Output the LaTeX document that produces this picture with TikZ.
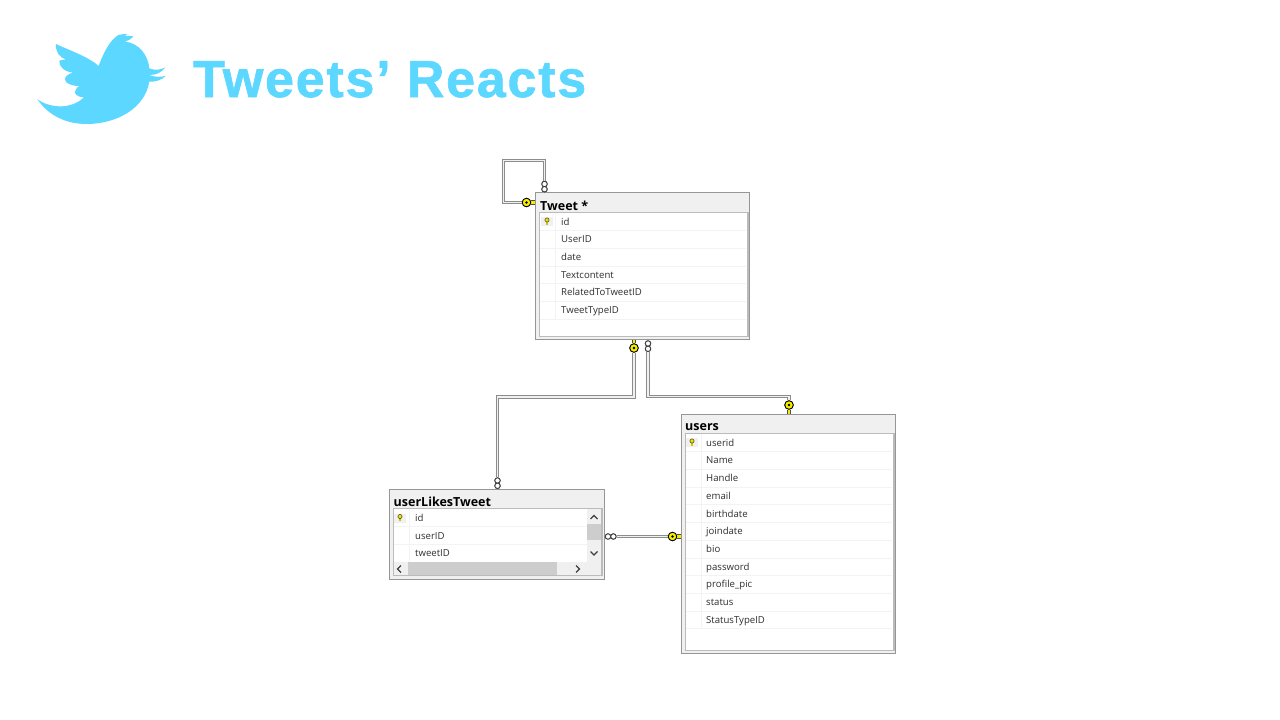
\documentclass[tikz,border=0pt]{standalone}
\usepackage{fontspec}
\setmainfont{Open Sans}
\newfontfamily\titlefont[LetterSpace=3.4,FakeBold=1.2]{Liberation Sans Bold}
\usetikzlibrary{shapes.geometric,calc}
\definecolor{tw}{HTML}{5CD7FF}
\definecolor{hdr}{HTML}{F0F0F0}
\definecolor{edgeg}{HTML}{969696}
\definecolor{inng}{HTML}{BBBBBB}
\definecolor{rowl}{HTML}{F3F3F3}
\definecolor{keyy}{HTML}{F5EE00}
\definecolor{sbar}{HTML}{CDCDCD}
\tikzset{
 tablebox/.style={draw=edgeg,line width=1.3pt,fill=hdr,anchor=north west,inner sep=0pt},
 gridbox/.style={draw=inng,line width=1.5pt,fill=white,anchor=north west,inner sep=0pt},
 tabletitle/.style={anchor=west,inner sep=0pt,font=\fontsize{12.5}{14}\selectfont\bfseries,text=black},
 rowtext/.style={anchor=west,inner sep=0pt,font=\fontsize{9.6}{12}\selectfont,text=black!82,text height=7.5pt,text depth=2pt},
 rowline/.style={draw=rowl,line width=.9pt},
 conn/.style={draw=black!45,line width=1.1pt,double=black!6,double distance=1.3pt,line join=miter},
 keyhead/.style={ellipse,draw=black,line width=.8pt,fill=keyy,minimum width=8.5pt,minimum height=8.5pt,inner sep=0pt},
 keyshaft/.style={draw=black!70,line width=.7pt,double=keyy,double distance=2.8pt},
 ring/.style={circle,draw=black!75,line width=.9pt,fill=white,minimum size=5.4pt,inner sep=0pt},
 pkbg/.style={fill=hdr,draw=none,minimum width=12pt,minimum height=9pt,inner sep=0pt},
 sbbg/.style={fill=hdr,draw=none,anchor=north west,inner sep=0pt},
 sbthumb/.style={fill=sbar,draw=none,anchor=north west,inner sep=0pt},
 chev/.style={draw=black!75,line width=1.1pt},
}
\newcommand{\pkkey}[1]{%
 \node[pkbg] at (#1) {};
 \fill[yellow!60!olive] ($(#1)+(-.9,-1)$) rectangle ($(#1)+(.9,3.2)$);
 \filldraw[draw=black!70!olive,fill=yellow!85!olive,line width=.5pt] ($(#1)+(0,-1.5)$) circle (2.1);
}
\newcommand{\keydot}[1]{\fill[black] (#1) circle (1.3);}
\begin{document}
\begin{tikzpicture}[x=1pt,y=-1pt]
\useasboundingbox[fill=white] (0,0) rectangle (1280,720);
% bird
\begin{scope}[shift={(20,20)},x=.3333pt,y=-.3333pt]
\fill[tw] (52,238) .. controls (85,262) and (150,272) .. (192,232)
 .. controls (175,232) and (160,222) .. (166,212) .. controls (168,204) and (174,200) .. (178,198)
 .. controls (155,198) and (135,190) .. (135,178) .. controls (135,168) and (148,160) .. (160,158)
 .. controls (135,156) and (115,140) .. (118,122) .. controls (122,120) and (130,119) .. (138,119)
 .. controls (118,112) and (106,95) .. (108,72)
 .. controls (150,92) and (205,110) .. (236,138)
 .. controls (250,100) and (268,62) .. (295,45)
 .. controls (303,43) and (312,42) .. (322,42) .. controls (318,46) and (314,49) .. (308,52)
 .. controls (318,46) and (332,46) .. (340,50) .. controls (332,58) and (325,62) .. (315,65)
 .. controls (355,68) and (385,105) .. (388,145)
 .. controls (405,152) and (422,150) .. (436,142) .. controls (425,158) and (408,165) .. (388,165)
 .. controls (405,172) and (424,172) .. (438,167) .. controls (425,181) and (405,186) .. (388,185)
 .. controls (375,265) and (290,312) .. (200,312)
 .. controls (135,312) and (85,285) .. (52,238) -- cycle;
\end{scope}
\node[anchor=base west,inner sep=0pt,text=tw,font=\titlefont\fontsize{52}{56}\selectfont] (title) at (193,97) {Tweets’ Reacts};

% tables
\node[tablebox,minimum width=214pt,minimum height=146.5pt] (tweet) at (535,192) {};
\node[gridbox,minimum width=208.5pt,minimum height=124pt] (tweetgrid) at (538.5,211.5) {};
\node[tabletitle] (tweettitle) at (540,205.5) {Tweet *};
\node[tablebox,minimum width=214.5pt,minimum height=239pt] (users) at (680.5,413.5) {};
\node[gridbox,minimum width=208.5pt,minimum height=217pt] (usersgrid) at (684.5,432.5) {};
\node[tabletitle] (userstitle) at (685,427) {users};
\node[tablebox,minimum width=214.5pt,minimum height=89.5pt] (likes) at (389,489) {};
\node[gridbox,minimum width=208.5pt,minimum height=67pt] (likesgrid) at (392.5,507.5) {};
\node[tabletitle] (likestitle) at (393.5,502) {userLikesTweet};

% rows Tweet
\foreach \yy in {230.5,248,266,283.5,301,319} \draw[rowline] (540,\yy) -- (746,\yy);
\draw[rowline] (555,213) -- (555,319);
\foreach \nm/\yy/\tx in {a/222.5/id,b/240/UserID,c/258/date,d/275.5/Textcontent,e/293/RelatedToTweetID,f/311/TweetTypeID}
 \node[rowtext] (tw\nm) at (561,\yy) {\tx};
\pkkey{547,221.5}
% rows users
\foreach \yy in {451.5,469,487,504.5,522.5,540,558,575.5,593,611,628.5} \draw[rowline] (686,\yy) -- (892,\yy);
\draw[rowline] (701,434) -- (701,628.5);
\foreach \nm/\yy/\tx in {a/443.5/userid,b/461/Name,c/479/Handle,d/496.5/email,e/514.5/birthdate,f/532/joindate,g/550/bio,h/567.5/password,i/585/profile\_pic,j/603/status,k/620.5/StatusTypeID}
 \node[rowtext] (us\nm) at (706,\yy) {\tx};
\pkkey{692,442.5}
% rows likes
\foreach \yy in {526.5,544.5} \draw[rowline] (394,\yy) -- (587,\yy);
\draw[rowline] (409,509) -- (409,562);
\foreach \nm/\yy/\tx in {a/519/id,b/536.5/userID,c/554/tweetID}
 \node[rowtext] (li\nm) at (415,\yy) {\tx};
\pkkey{400,518}
% scrollbars
\node[sbbg,minimum width=14pt,minimum height=53pt] (vbar) at (587,509) {};
\node[sbthumb,minimum width=14pt,minimum height=16pt] (vthumb) at (587,524) {};
\node[sbbg,minimum width=207pt,minimum height=13pt] (hbar) at (394,562) {};
\node[sbthumb,minimum width=149pt,minimum height=13pt] (hthumb) at (408,562) {};
\draw[chev] (590.5,519) -- (594,515.5) -- (597.5,519);
\draw[chev] (590.5,551.5) -- (594,555) -- (597.5,551.5);
\draw[chev] (401,565.5) -- (397.5,569) -- (401,572.5);
\draw[chev] (576,565.5) -- (579.5,569) -- (576,572.5);

% connector end symbols
\node[keyhead] (k1) at (526.5,202.5) {};
\node[keyhead] (k2) at (634,348) {};
\node[keyhead] (k3) at (789,405) {};
\node[keyhead] (k4) at (672.5,536.5) {};
\node[ring] (r1a) at (544.5,184) {};
\node[ring] (r1b) at (544.5,189.2) {};
\node[ring] (r2a) at (648,343.5) {};
\node[ring] (r2b) at (648,348.8) {};
\node[ring] (r3a) at (497.5,480.5) {};
\node[ring] (r3b) at (497.5,485.8) {};
\node[ring] (r4a) at (608,536.5) {};
\node[ring] (r4b) at (613.4,536.5) {};
\coordinate (c1a) at (544.5,160.5);
\coordinate (c1b) at (503.5,160.5);
\coordinate (c1c) at (503.5,202.5);
\coordinate (c2) at (634,397);
\coordinate (c3) at (497.5,397);
\coordinate (c4) at (648,396.5);
\coordinate (c5) at (789,396.5);

% connectors
\draw[conn] (r1a) -- (c1a) -- (c1b) -- (c1c) -- (k1);
\draw[conn] (k2) -- (c2) -- (c3) -- (r3a);
\draw[conn] (r2b) -- (c4) -- (c5) -- (k3);
\draw[conn] (r4b) -- (k4);
\draw[keyshaft] (k1) -- (k1 -| tweet.west);
\draw[keyshaft] (k2) -- (k2 |- tweet.south);
\draw[keyshaft] (k3) -- (k3 |- users.north);
\draw[keyshaft] (k4) -- (k4 -| users.west);
\node[keyhead] at (k1) {}; \keydot{k1}
\node[keyhead] at (k2) {}; \keydot{k2}
\node[keyhead] at (k3) {}; \keydot{k3}
\node[keyhead] at (k4) {}; \keydot{k4}
\node[ring] at (r1a) {}; \node[ring] at (r1b) {};
\node[ring] at (r2a) {}; \node[ring] at (r2b) {};
\node[ring] at (r3a) {}; \node[ring] at (r3b) {};
\node[ring] at (r4a) {}; \node[ring] at (r4b) {};
\end{tikzpicture}
\end{document}
